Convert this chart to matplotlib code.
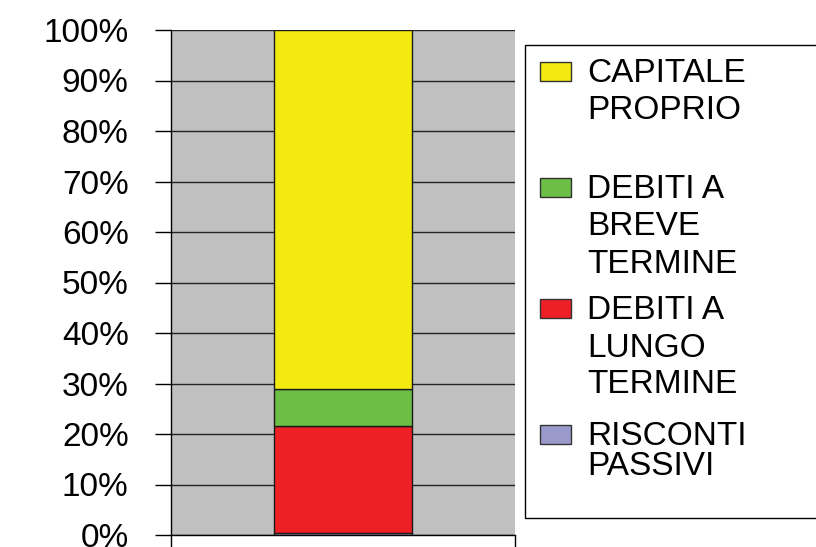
import matplotlib
matplotlib.use('Agg')
import matplotlib.pyplot as plt
from matplotlib.patches import Rectangle
import numpy as np

plt.rcParams['font.family'] = ['Liberation Sans', 'DejaVu Sans']

# stack order, bottom to top (percent of total)
categories = ['RISCONTI\nPASSIVI', 'DEBITI A\nLUNGO\nTERMINE', 'DEBITI A\nBREVE\nTERMINE', 'CAPITALE\nPROPRIO']
values = [0.3, 21.3, 7.4, 71.0]
colors = ['#9999CC', '#EE1F25', '#6CBE45', '#F3EA10']
yticks = np.arange(0, 101, 10)
ytick_labels = [f'{t}%' for t in yticks]

W, H = 816, 547
fig = plt.figure(figsize=(W / 100, H / 100), dpi=100)
ax = fig.add_axes([171 / W, 12 / H, (515 - 171) / W, 505 / H])
ax.set_facecolor('#C0C0C0')

bottoms = np.concatenate([[0], np.cumsum(values)[:-1]])
for v, b, c in zip(values, bottoms, colors):
    ax.bar(0, v, bottom=b, width=0.4, color=c, edgecolor='#1a1a1a', linewidth=1, zorder=3)

ax.set_xlim(-0.5, 0.5)
ax.set_ylim(0, 100)
ax.set_yticks(yticks)
ax.set_yticklabels(ytick_labels, fontsize=24)
ax.set_xticks([-0.5, 0.5])
ax.set_xticklabels(['', ''])
ax.tick_params(axis='y', length=11.5, width=1, pad=19, colors='black')
ax.tick_params(axis='x', length=8.6, width=1, direction='out')
ax.grid(axis='y', color='#222222', linewidth=1, zorder=1)
for s in ['top', 'right']:
    ax.spines[s].set_visible(False)
ax.spines['left'].set_linewidth(1)
ax.spines['bottom'].set_linewidth(1)

# legend drawn in pixel coordinates on an overlay
ov = fig.add_axes([0, 0, 1, 1], zorder=5)
ov.set_xlim(0, W)
ov.set_ylim(H, 0)
ov.axis('off')
ov.patch.set_visible(False)
ov.add_patch(Rectangle((525, 45), 400, 473, facecolor='white', edgecolor='black', linewidth=1))

baselines = [[445, 475], [319, 357, 393], [198, 235, 273], [82, 119]]
for lab, c, bl in zip(categories, colors, baselines):
    ov.add_patch(Rectangle((540, bl[0] - 20), 31, 19, facecolor=c, edgecolor='#333333', linewidth=1))
    for line, y in zip(lab.split('\n'), bl):
        ov.text(587, y, line, fontsize=24, va='baseline', ha='left', color='black')

fig.savefig('out.png', dpi=100)
